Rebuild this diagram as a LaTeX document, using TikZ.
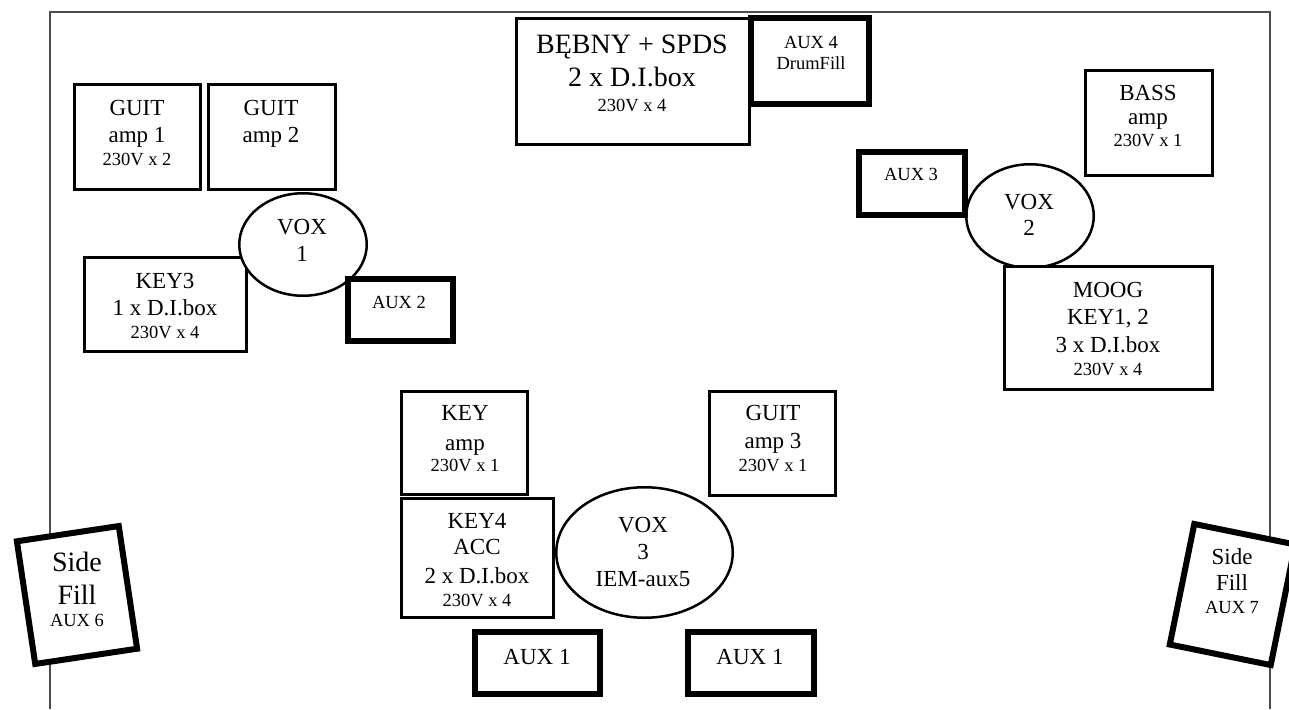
\documentclass[tikz,border=0pt]{standalone}
\usepackage{fontspec}
\setmainfont{Liberation Serif}
\usetikzlibrary{shapes.geometric}
\begin{document}
\begin{tikzpicture}[x=1pt,y=-1pt,
  boxs/.style={draw, rectangle, line width=3pt, fill=white, inner sep=0pt},
  auxs/.style={draw, rectangle, line width=6pt, fill=white, inner sep=0pt},
  voxs/.style={draw, ellipse, line width=2.5pt, fill=white, inner sep=0pt},
  big/.style={anchor=base, inner sep=0pt, font=\fontsize{23}{27}\selectfont},
  sml/.style={anchor=base, inner sep=0pt, font=\fontsize{18.5}{22}\selectfont},
  hug/.style={anchor=base, inner sep=0pt, font=\fontsize{28}{33}\selectfont},
  frame/.style={draw=black!70, line width=1.5pt}]
\useasboundingbox (0,0) rectangle (1289,709);
% frame
\coordinate (f1) at (50,709);
\coordinate (f2) at (50,12);
\coordinate (f3) at (1270,12);
\coordinate (f4) at (1270,709);
\draw[frame] (f1) -- (f2) -- (f3) -- (f4);
% boxes
\node[boxs, minimum width=126, minimum height=105] (guit1) at (137.5,137) {};
\node[boxs, minimum width=127, minimum height=105] (guit2) at (272,137) {};
\node[boxs, minimum width=162, minimum height=94] (key3) at (165.5,304.5) {};
\node[voxs, minimum width=127.5, minimum height=102.5] (vox1) at (303,244.5) {};
\node[auxs, minimum width=105, minimum height=62] (aux2) at (400.5,310) {};
\node[boxs, minimum width=233, minimum height=126] (drums) at (633,81.5) {};
\node[auxs, minimum width=118, minimum height=86] (aux4) at (810,61) {};
\node[boxs, minimum width=127, minimum height=105] (bass) at (1149,123) {};
\node[voxs, minimum width=127.5, minimum height=103.5] (vox2) at (1030,216) {};
\node[auxs, minimum width=106, minimum height=63] (aux3) at (912,183.5) {};
\node[boxs, minimum width=208, minimum height=123] (moog) at (1108.5,328) {};
\node[boxs, minimum width=126, minimum height=103] (keyamp) at (464.5,443) {};
\node[boxs, minimum width=126, minimum height=104] (guit3) at (772.5,443.5) {};
\node[boxs, minimum width=152, minimum height=119] (key4) at (477.5,558) {};
\node[voxs, minimum width=176.5, minimum height=130.5] (vox3) at (644.5,552.5) {};
\node[auxs, minimum width=125, minimum height=62] (aux1a) at (537.5,663) {};
\node[auxs, minimum width=126, minimum height=62] (aux1b) at (751,663) {};
\node[auxs, minimum width=103, minimum height=124, rotate=8.5] (sfl) at (77,595) {};
\node[auxs, minimum width=103, minimum height=123, rotate=-11.5] (sfr) at (1232.5,594.5) {};
% texts
\node[big] (g1a) at (137,115) {GUIT};
\node[big] (g1b) at (137,142.6) {amp 1};
\node[sml] (g1c) at (137,165) {230V x 2};
\node[big] (g2a) at (271,115) {GUIT};
\node[big] (g2b) at (271,142.6) {amp 2};
\node[big] (v1a) at (302,234.6) {VOX};
\node[big] (v1b) at (302,261.6) {1};
\node[big] (k3a) at (165,288.6) {KEY3};
\node[big] (k3b) at (165,315.6) {1 x D.I.box};
\node[sml] (k3c) at (165,338) {230V x 4};
\node[sml] (a2t) at (399,308) {AUX 2};
\node[hug] (dra) at (632,53.5) {BĘBNY + SPDS};
\node[hug] (drb) at (632,86.5) {2 x D.I.box};
\node[sml] (drc) at (632,111) {230V x 4};
\node[sml] (a4a) at (811,48.5) {AUX 4};
\node[sml] (a4b) at (811,69) {DrumFill};
\node[big] (ba) at (1148,100.3) {BASS};
\node[big] (bb) at (1148,124) {amp};
\node[sml] (bc) at (1148,146) {230V x 1};
\node[sml] (a3t) at (911,180) {AUX 3};
\node[big] (v2a) at (1029,209.6) {VOX};
\node[big] (v2b) at (1029,235.6) {2};
\node[big] (ma) at (1108,297.6) {MOOG};
\node[big] (mb) at (1108,324.6) {KEY1, 2};
\node[big] (mc) at (1108,352.6) {3 x D.I.box};
\node[sml] (md) at (1108,375) {230V x 4};
\node[big] (ka) at (465,420.6) {KEY};
\node[big] (kb) at (465,450) {amp};
\node[sml] (kc) at (465,471) {230V x 1};
\node[big] (g3a) at (773,420.6) {GUIT};
\node[big] (g3b) at (773,448.6) {amp 3};
\node[sml] (g3c) at (773,471) {230V x 1};
\node[big] (k4a) at (477,528.6) {KEY4};
\node[big] (k4b) at (477,554.6) {ACC};
\node[big] (k4c) at (477,583.6) {2 x D.I.box};
\node[sml] (k4d) at (477,606) {230V x 4};
\node[big] (v3a) at (643,532.6) {VOX};
\node[big] (v3b) at (643,559.6) {3};
\node[big] (v3c) at (643,586.6) {IEM-aux5};
\node[big] (a1at) at (537,664.6) {AUX 1};
\node[big] (a1bt) at (750,664.6) {AUX 1};
\node[hug] (sfla) at (77,571) {Side};
\node[hug] (sflb) at (77,604) {Fill};
\node[sml] (sflc) at (77,626) {AUX 6};
\node[big] (sfra) at (1232,564.6) {Side};
\node[big] (sfrb) at (1232,590.6) {Fill};
\node[sml] (sfrc) at (1232,613) {AUX 7};
\end{tikzpicture}
\end{document}
